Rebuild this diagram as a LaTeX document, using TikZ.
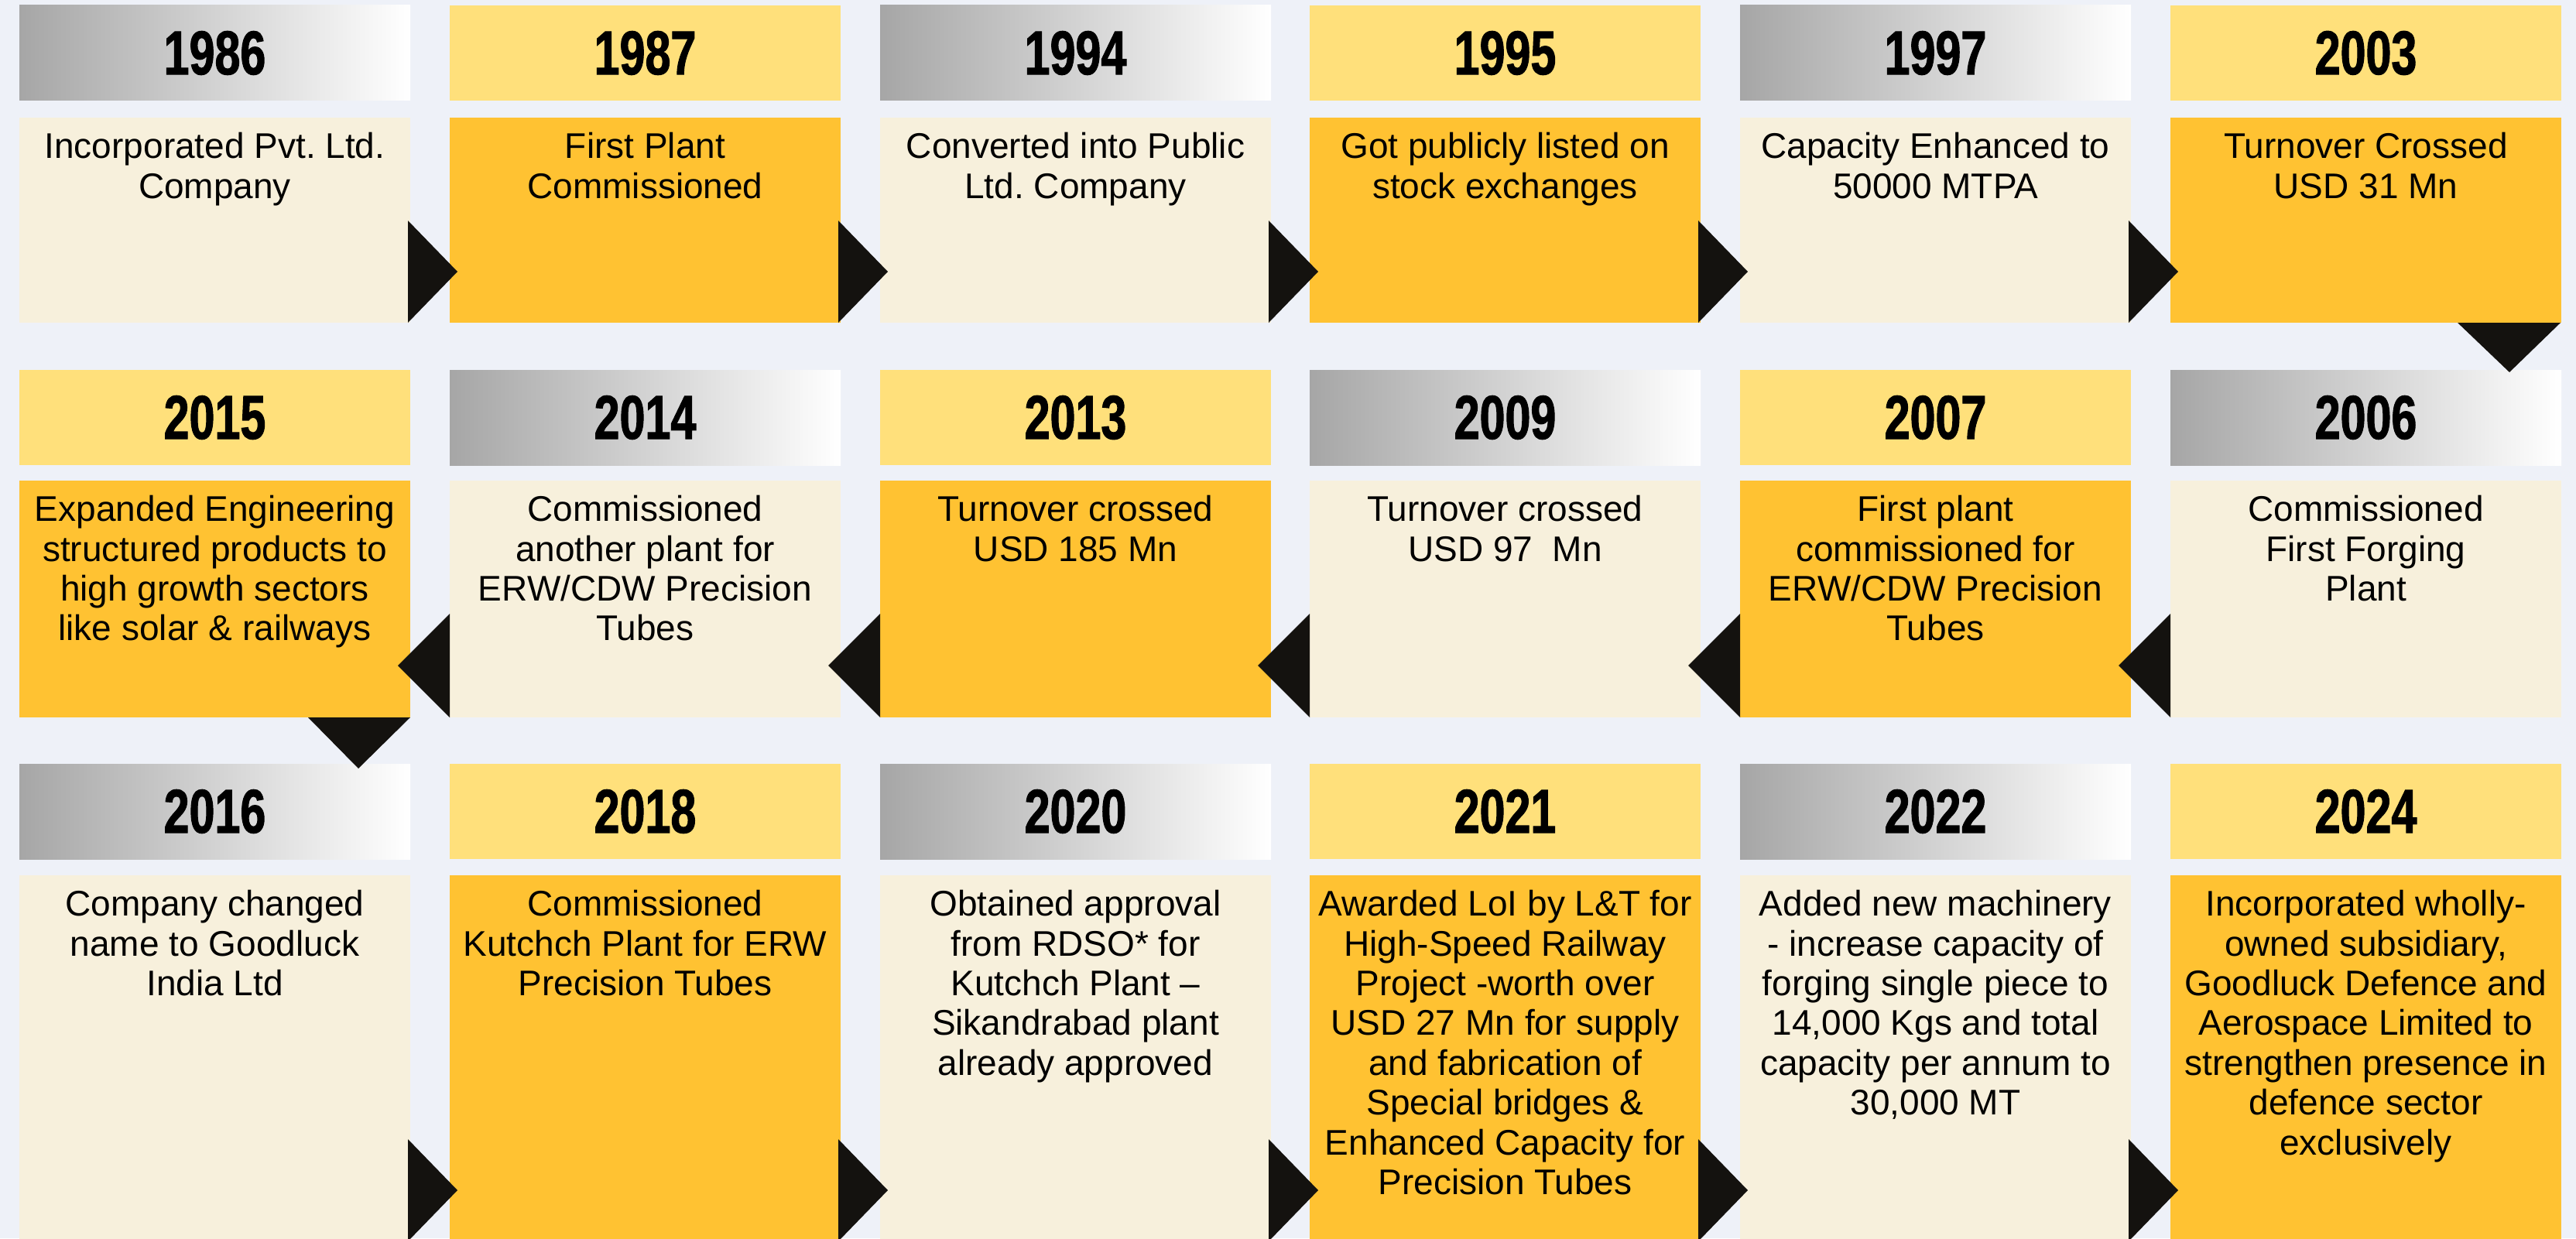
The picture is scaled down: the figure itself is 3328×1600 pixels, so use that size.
\documentclass[tikz,border=0pt]{standalone}
\usepackage{fontspec}
\setmainfont{Liberation Sans}
\newfontfamily\yearfont[FakeStretch=0.74,FakeBold=1.3]{Liberation Sans}
\usetikzlibrary{calc}
\definecolor{bgc}{HTML}{EEF1F8}
\definecolor{creamc}{HTML}{F7F0DC}
\definecolor{orangec}{HTML}{FFC232}
\definecolor{yelc}{HTML}{FFE07B}
\definecolor{grayc}{HTML}{A6A6A6}
\definecolor{arrc}{HTML}{14120F}
\tikzset{
  box/.style={inner sep=0pt, outer sep=0pt, anchor=north west, minimum width=252.5pt},
  hdr/.style={box, minimum height=61.5pt},
  hgray/.style={hdr, left color=grayc, right color=white},
  hyel/.style={hdr, fill=yelc},
  desc1/.style={box, minimum height=132.5pt},
  desc2/.style={box, minimum height=153pt},
  desc3/.style={box, minimum height=236.5pt},
  dcream/.style={fill=creamc},
  dorange/.style={fill=orangec},
  yeartext/.style={inner sep=0pt, font=\yearfont\bfseries\fontsize{40}{44}\selectfont, text=black},
  desctext/.style={inner sep=0pt, anchor=north, align=center, font=\frenchspacing\fontsize{23}{25.7}\selectfont, text=black},
  tri/.style={fill=arrc},
}
\newcommand\yearbox[5]{%
  \node[#4] (#1) at (#2,#3) {};
  \node[yeartext] (#1y) at (#1.center) {#5};
}
\newcommand\descbox[5]{%
  \node[#4] (#1) at (#2,#3) {};
  \node[desctext] (#1t) at ([yshift=-9.5pt]#1.north) {#5};
}
\frenchspacing
\begin{document}
\begin{tikzpicture}[x=0.5pt,y=-0.5pt]
\fill[bgc] (0,0) rectangle (3328,1600);
\useasboundingbox (0,0) rectangle (3328,1600);
\clip (0,0) rectangle (3328,1600);
% ---------- Row 1 ----------
\yearbox{ha}{25}{7}{hgray}{1986}
\yearbox{hb}{581}{7}{hyel}{1987}
\yearbox{hc}{1137}{7}{hgray}{1994}
\yearbox{hd}{1692}{7}{hyel}{1995}
\yearbox{he}{2248}{7}{hgray}{1997}
\yearbox{hf}{2804}{7}{hyel}{2003}
\descbox{da}{25}{152}{desc1,dcream}{Incorporated Pvt. Ltd.\\Company}
\descbox{db}{581}{152}{desc1,dorange}{First Plant\\Commissioned}
\descbox{dc}{1137}{152}{desc1,dcream}{Converted into Public\\Ltd. Company}
\descbox{dd}{1692}{152}{desc1,dorange}{Got publicly listed on\\stock exchanges}
\descbox{de}{2248}{152}{desc1,dcream}{Capacity Enhanced to\\50000 MTPA}
\descbox{df}{2804}{152}{desc1,dorange}{Turnover Crossed\\USD 31 Mn}
% ---------- Row 2 ----------
\yearbox{hg}{25}{478}{hyel}{2015}
\yearbox{hh}{581}{478}{hgray}{2014}
\yearbox{hi}{1137}{478}{hyel}{2013}
\yearbox{hj}{1692}{478}{hgray}{2009}
\yearbox{hk}{2248}{478}{hyel}{2007}
\yearbox{hl}{2804}{478}{hgray}{2006}
\descbox{dg}{25}{621}{desc2,dorange}{Expanded Engineering\\structured products to\\high growth sectors\\like solar \& railways}
\descbox{dh}{581}{621}{desc2,dcream}{Commissioned\\another plant for\\ERW/CDW Precision\\Tubes}
\descbox{di}{1137}{621}{desc2,dorange}{Turnover crossed\\USD 185 Mn}
\descbox{dj}{1692}{621}{desc2,dcream}{Turnover crossed\\USD 97~~Mn}
\descbox{dk}{2248}{621}{desc2,dorange}{First plant\\commissioned for\\ERW/CDW Precision\\Tubes}
\descbox{dl}{2804}{621}{desc2,dcream}{Commissioned\\First Forging\\Plant}
% ---------- Row 3 ----------
\yearbox{hm}{25}{987}{hgray}{2016}
\yearbox{hn}{581}{987}{hyel}{2018}
\yearbox{ho}{1137}{987}{hgray}{2020}
\yearbox{hp}{1692}{987}{hyel}{2021}
\yearbox{hq}{2248}{987}{hgray}{2022}
\yearbox{hr}{2804}{987}{hyel}{2024}
\descbox{dm}{25}{1131}{desc3,dcream}{Company changed\\name to Goodluck\\India Ltd}
\descbox{dn}{581}{1131}{desc3,dorange}{Commissioned\\Kutchch Plant for ERW\\Precision Tubes}
\descbox{do}{1137}{1131}{desc3,dcream}{Obtained approval\\from RDSO* for\\Kutchch Plant –\\Sikandrabad plant\\already approved}
\descbox{dp}{1692}{1131}{desc3,dorange}{Awarded LoI by L\&T for\\High-Speed Railway\\Project -worth over\\USD 27 Mn for supply\\and fabrication of\\Special bridges \&\\Enhanced Capacity for\\Precision Tubes}
\descbox{dq}{2248}{1131}{desc3,dcream}{Added new machinery\\- increase capacity of\\forging single piece to\\14,000 Kgs and total\\capacity per annum to\\30,000 MT}
\descbox{dr}{2804}{1131}{desc3,dorange}{Incorporated wholly-\\owned subsidiary,\\Goodluck Defence and\\Aerospace Limited to\\strengthen presence in\\defence sector\\exclusively}
% ---------- Connectors: row 1 (right) ----------
\foreach \a in {da,db,dc,dd,de}{
  \fill[tri] ($(\a.south east)+(-3,-132)$) -- ($(\a.south east)+(61,-66)$) -- ($(\a.south east)+(-3,0)$) -- cycle;
}
% down from 2003 to 2006
\fill[tri] ($(df.south east)+(-134,0)$) -- ($(df.south east)+(-1,0)$) -- ($(df.south east)+(-67,64)$) -- cycle;
% ---------- Row 2 (left) ----------
\foreach \a in {dh,di,dj,dk,dl}{
  \fill[tri] ($(\a.south west)+(0,-134)$) -- ($(\a.south west)+(-67,-67)$) -- ($(\a.south west)+(0,0)$) -- cycle;
}
% down from 2015 to 2016
\fill[tri] ($(dg.south east)+(-132,0)$) -- ($(dg.south east)+(0,0)$) -- ($(dg.south east)+(-67,66)$) -- cycle;
% ---------- Row 3 (right) ----------
\foreach \a in {dm,dn,do,dp,dq}{
  \fill[tri] ($(\a.north east)+(-3,341)$) -- ($(\a.north east)+(61,407)$) -- ($(\a.north east)+(-3,473)$) -- cycle;
}
\end{tikzpicture}
\end{document}
